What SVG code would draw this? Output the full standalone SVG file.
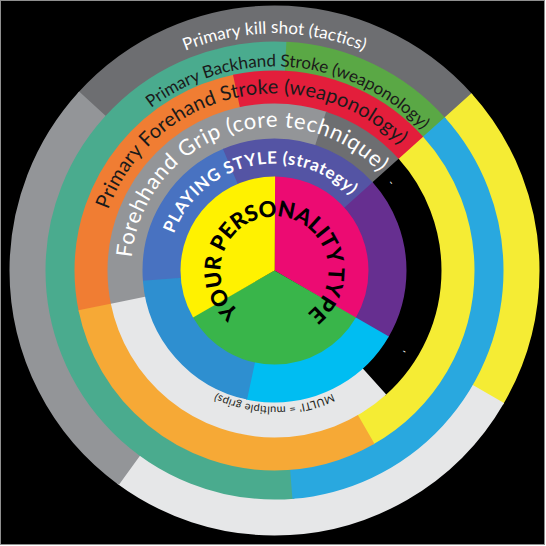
<svg xmlns="http://www.w3.org/2000/svg" xmlns:xlink="http://www.w3.org/1999/xlink" width="546" height="546" viewBox="0 0 546 546">
<style>
.seg{fill:none}
.kill{stroke-width:37}
.back{stroke-width:30}
.fore{stroke-width:34}
.grip{stroke-width:36}
.play{stroke-width:39}
.core{stroke-width:94}
.t{font-family:Lato,"Open Sans","Liberation Sans",sans-serif}
.b{font-weight:bold}
.k{font-weight:900}
</style>
<defs>
<path id="p237" d="M274.5 507.5A237 237 0 1 1 274.5 33.5A237 237 0 1 1 274.5 507.5"/>
<path id="p204" d="M274.5 474.5A204 204 0 1 1 274.5 66.5A204 204 0 1 1 274.5 474.5"/>
<path id="p177" d="M274.5 447.5A177 177 0 1 1 274.5 93.5A177 177 0 1 1 274.5 447.5"/>
<path id="p143" d="M274.5 414A143.5 143.5 0 1 1 274.5 127A143.5 143.5 0 1 1 274.5 414"/>
<path id="p107" d="M274.5 377.5A107 107 0 1 1 274.5 163.5A107 107 0 1 1 274.5 377.5"/>
<path id="p54" d="M274.5 324.5A54 54 0 1 1 274.5 216.5A54 54 0 1 1 274.5 324.5"/>
<path id="q136" d="M274.5 134.5A136 136 0 1 1 274.5 406.5A136 136 0 1 1 274.5 134.5"/>
<path id="q143" d="M274.5 127.5A143 143 0 1 1 274.5 413.5A143 143 0 1 1 274.5 127.5"/>
<path id="q147" d="M274.5 123.5A147 147 0 1 1 274.5 417.5A147 147 0 1 1 274.5 123.5"/>
</defs>
<rect x="0.5" y="0.5" width="544" height="544" fill="#000" stroke="#8f8f8f" stroke-width="1"/>

<g id="ring-kill-shot">
<circle class="seg kill" cx="274.5" cy="270.5" r="246.5" pathLength="360" stroke="#6d6e71" stroke-dasharray="96.5 263.5" stroke-dashoffset="138"/>
<circle class="seg kill" cx="274.5" cy="270.5" r="246.5" pathLength="360" stroke="#f5ec34" stroke-dasharray="72.5 287.5" stroke-dashoffset="42"/>
<circle class="seg kill" cx="274.5" cy="270.5" r="246.5" pathLength="360" stroke="#e6e7e8" stroke-dasharray="96.5 263.5" stroke-dashoffset="330"/>
<circle class="seg kill" cx="274.5" cy="270.5" r="246.5" pathLength="360" stroke="#939598" stroke-dasharray="96.5 263.5" stroke-dashoffset="234"/>
</g>

<g id="ring-backhand">
<circle class="seg back" cx="274.5" cy="270.5" r="214" pathLength="360" stroke="#4aab8e" stroke-dasharray="188.5 171.5" stroke-dashoffset="275"/>
<circle class="seg back" cx="274.5" cy="270.5" r="214" pathLength="360" stroke="#5aa845" stroke-dasharray="45.5 314.5" stroke-dashoffset="87"/>
<circle class="seg back" cx="274.5" cy="270.5" r="214" pathLength="360" stroke="#29a8df" stroke-dasharray="127.5 232.5" stroke-dashoffset="42"/>
</g>

<g id="ring-forehand">
<circle class="seg fore" cx="274.5" cy="270.5" r="183" pathLength="360" stroke="#f07d33" stroke-dasharray="90.5 269.5" stroke-dashoffset="192"/>
<circle class="seg fore" cx="274.5" cy="270.5" r="183" pathLength="360" stroke="#e31e3b" stroke-dasharray="60.5 299.5" stroke-dashoffset="102"/>
<circle class="seg fore" cx="274.5" cy="270.5" r="183" pathLength="360" stroke="#f5ec34" stroke-dasharray="102.5 257.5" stroke-dashoffset="42"/>
<circle class="seg fore" cx="274.5" cy="270.5" r="183" pathLength="360" stroke="#f6a936" stroke-dasharray="108.5 251.5" stroke-dashoffset="300"/>
</g>

<g id="ring-grip">
<circle class="seg grip" cx="274.5" cy="270.5" r="149" pathLength="360" stroke="#939598" stroke-dasharray="120.5 239.5" stroke-dashoffset="192"/>
<circle class="seg grip" cx="274.5" cy="270.5" r="149" pathLength="360" stroke="#6d6e71" stroke-dasharray="30.5 329.5" stroke-dashoffset="72"/>
<circle class="seg grip" cx="274.5" cy="270.5" r="149" pathLength="360" stroke="#000000" stroke-dasharray="90.5 269.5" stroke-dashoffset="42"/>
<circle class="seg grip" cx="274.5" cy="270.5" r="149" pathLength="360" stroke="#e6e7e8" stroke-dasharray="120.5 239.5" stroke-dashoffset="312"/>
</g>

<g id="ring-playing-style">
<circle class="seg play" cx="274.5" cy="270.5" r="112.5" pathLength="360" stroke="#4872c1" stroke-dasharray="72.5 287.5" stroke-dashoffset="185"/>
<circle class="seg play" cx="274.5" cy="270.5" r="112.5" pathLength="360" stroke="#5454a4" stroke-dasharray="71.5 288.5" stroke-dashoffset="113"/>
<circle class="seg play" cx="274.5" cy="270.5" r="112.5" pathLength="360" stroke="#662f90" stroke-dasharray="72.5 287.5" stroke-dashoffset="42"/>
<circle class="seg play" cx="274.5" cy="270.5" r="112.5" pathLength="360" stroke="#00bdf2" stroke-dasharray="72.5 287.5" stroke-dashoffset="330"/>
<circle class="seg play" cx="274.5" cy="270.5" r="112.5" pathLength="360" stroke="#2e8fd0" stroke-dasharray="73.5 286.5" stroke-dashoffset="258"/>
</g>

<g id="core-personality">
<circle class="seg core" cx="274.5" cy="270.5" r="47" pathLength="360" stroke="#ec0b72" stroke-dasharray="120.5 239.5" stroke-dashoffset="90"/>
<circle class="seg core" cx="274.5" cy="270.5" r="47" pathLength="360" stroke="#39b54a" stroke-dasharray="120.5 239.5" stroke-dashoffset="330"/>
<circle class="seg core" cx="274.5" cy="270.5" r="47" pathLength="360" stroke="#fff200" stroke-dasharray="120.5 239.5" stroke-dashoffset="210"/>
</g>

<g id="labels">
<text class="t" font-size="17" fill="#ffffff" text-anchor="middle"><textPath xlink:href="#p237" href="#p237" startOffset="50%" textLength="183" lengthAdjust="spacing">Primary kill shot (tactics)</textPath></text>
<text class="t" font-size="17" fill="#1a1a1a" text-anchor="middle"><textPath xlink:href="#p204" href="#p204" startOffset="51.28%" textLength="298" lengthAdjust="spacing">Primary Backhand Stroke (weaponology)</textPath></text>
<text class="t" font-size="20" fill="#1a1a1a" text-anchor="middle"><textPath xlink:href="#p177" href="#p177" startOffset="46.53%" textLength="355" lengthAdjust="spacing">Primary Forehand Stroke (weaponology)</textPath></text>
<text class="t" font-size="22" fill="#ffffff" text-anchor="middle"><textPath xlink:href="#p143" href="#p143" startOffset="44.72%" textLength="330" lengthAdjust="spacing">Forehhand Grip (core technique)</textPath></text>
<text class="t b" font-size="17" fill="#ffffff" text-anchor="middle"><textPath xlink:href="#p107" href="#p107" startOffset="46.58%" textLength="215" lengthAdjust="spacing">PLAYING STYLE (strategy)</textPath></text>
<text class="t k" font-size="22" fill="#000000" text-anchor="middle"><textPath xlink:href="#p54" href="#p54" startOffset="50.4%" textLength="266" lengthAdjust="spacing">YOUR PERSONALITY TYPE</textPath></text>
<text class="t" font-size="11" fill="#231f20" text-anchor="middle"><textPath xlink:href="#q136" href="#q136" startOffset="50%" textLength="120" lengthAdjust="spacing">MULTI' = multiple grips)</textPath></text>
<text class="t" font-size="10" fill="#ffffff" text-anchor="middle"><textPath xlink:href="#q143" href="#q143" startOffset="14.72%">-</textPath></text>
<text class="t" font-size="10" fill="#ffffff" text-anchor="middle"><textPath xlink:href="#q147" href="#q147" startOffset="33.89%">'</textPath></text>
</g>
</svg>
